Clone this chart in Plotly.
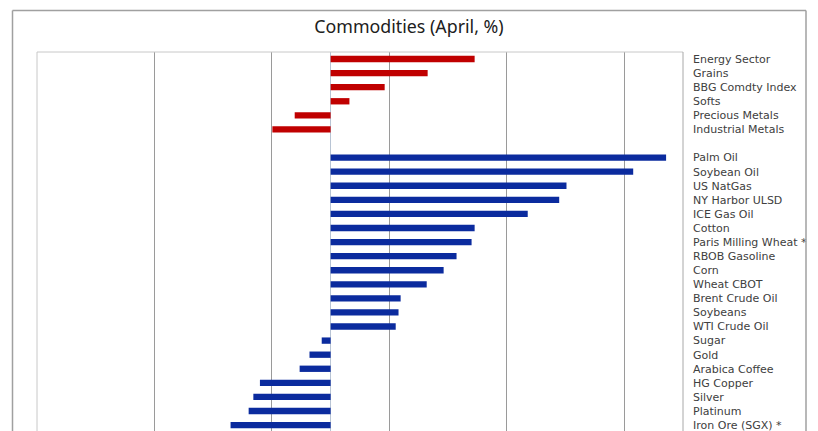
import plotly.graph_objects as go

# Data
sector_names = ["Energy Sector", "Grains", "BBG Comdty Index", "Softs",
                "Precious Metals", "Industrial Metals"]
sector_values = [6.13, 4.13, 2.30, 0.80, -1.53, -2.48]

commodity_names = ["Palm Oil", "Soybean Oil", "US NatGas", "NY Harbor ULSD",
                   "ICE Gas Oil", "Cotton", "Paris Milling Wheat *",
                   "RBOB Gasoline", "Corn", "Wheat CBOT", "Brent Crude Oil",
                   "Soybeans", "WTI Crude Oil", "Sugar", "Gold",
                   "Arabica Coffee", "HG Copper", "Silver", "Platinum",
                   "Iron Ore (SGX) *"]
commodity_values = [14.28, 12.88, 10.04, 9.73, 8.39, 6.13, 6.00, 5.36, 4.81,
                     4.09, 2.98, 2.89, 2.77, -0.38, -0.90, -1.32, -3.01,
                     -3.29, -3.49, -4.26]

spacer = " "
category_order = sector_names + [spacer] + commodity_names

RED = "#C00000"
BLUE = "#0B2B9E"

fig = go.Figure()
fig.add_trace(go.Bar(
    x=sector_values, y=sector_names, orientation="h",
    marker=dict(color=RED, line=dict(width=0)), width=0.45,
    showlegend=False, hoverinfo="x+y"))
fig.add_trace(go.Bar(
    x=commodity_values, y=commodity_names, orientation="h",
    marker=dict(color=BLUE, line=dict(width=0)), width=0.45,
    showlegend=False, hoverinfo="x+y"))

row_px = 14.08
fig.update_layout(
    width=818, height=431,
    margin=dict(l=37, r=135, t=52, b=0, pad=0),
    paper_bgcolor="white", plot_bgcolor="white",
    barmode="overlay",
    font=dict(family="DejaVu Sans", color="#404040"),
    title=dict(text="Commodities (April, %)", x=0.5, xanchor="center",
               y=1 - 27 / 431, yanchor="middle",
               font=dict(family="Noto Sans", size=17.8, color="#202020")),
    xaxis=dict(range=[-12.5, 15], tick0=-12.5, dtick=5,
               showgrid=True, gridcolor="#9a9a9a", gridwidth=1,
               zeroline=True, zerolinecolor="#b8c4d4", zerolinewidth=1,
               showticklabels=False, showline=False, fixedrange=True),
    yaxis=dict(type="category", categoryorder="array",
               categoryarray=category_order,
               range=[(431 - 59) / row_px, -0.5],
               side="right", showgrid=False, zeroline=False,
               ticks="", ticklen=0, showline=False, ticklabelstandoff=9,
               tickfont=dict(family="DejaVu Sans", size=11, color="#404040"),
               automargin=False, fixedrange=True),
    shapes=[
        # plot-area frame (left, top, right)
        dict(type="line", xref="paper", yref="paper", x0=0, x1=0, y0=0, y1=1,
             line=dict(color="#c8c8c8", width=1)),
        dict(type="line", xref="paper", yref="paper", x0=0, x1=1, y0=1, y1=1,
             line=dict(color="#c8c8c8", width=1)),
        dict(type="line", xref="paper", yref="paper", x0=1, x1=1, y0=0, y1=1,
             line=dict(color="#a8a8a8", width=1)),
        # outer chart frame
        dict(type="line", xref="paper", yref="paper",
             x0=(12.5 - 37) / 646, x1=(12.5 - 37) / 646, y0=-0.1, y1=(431 - 10.5) / 379,
             line=dict(color="#a0a0a0", width=1.5)),
        dict(type="line", xref="paper", yref="paper",
             x0=(12.5 - 37) / 646, x1=(806 - 37) / 646, y0=(431 - 10.5) / 379, y1=(431 - 10.5) / 379,
             line=dict(color="#a0a0a0", width=1.5)),
        dict(type="line", xref="paper", yref="paper",
             x0=(806 - 37) / 646, x1=(806 - 37) / 646, y0=-0.1, y1=(431 - 10.5) / 379,
             line=dict(color="#a0a0a0", width=1.5)),
    ],
)

fig.write_html("out.html")
